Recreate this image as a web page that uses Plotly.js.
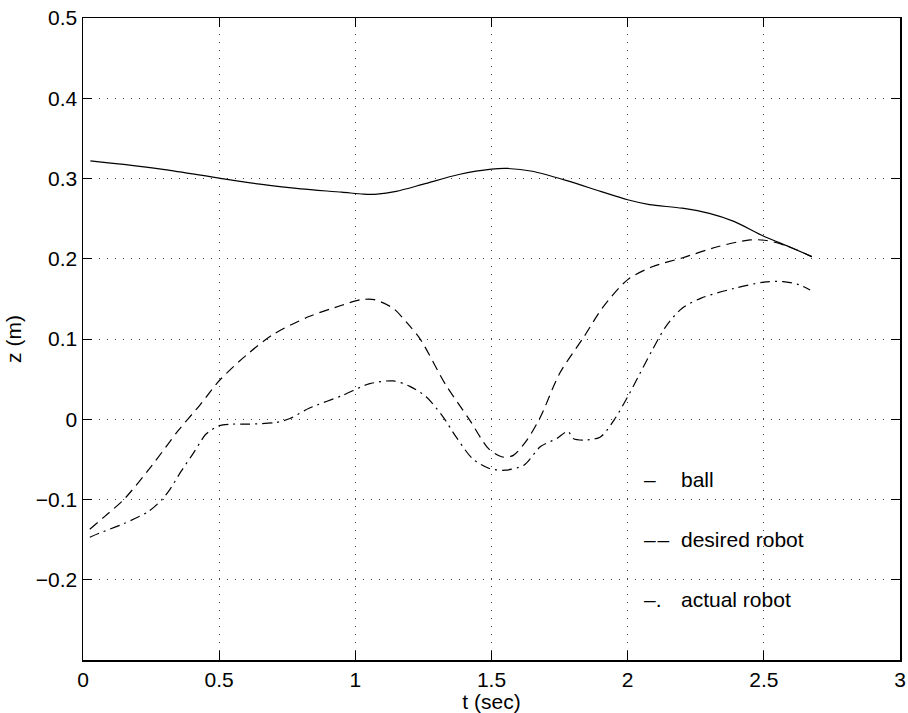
<!DOCTYPE html>
<html>
<head>
<meta charset="utf-8">
<script src="https://cdn.plot.ly/plotly-3.0.1.min.js"></script>
<style>html,body{margin:0;padding:0;background:#fff;}#chart{width:908px;height:713px;}</style>
</head>
<body>
<div id="chart"></div>
<script>
// Ball trajectory (solid)
const ballT = [0.027, 0.15, 0.3, 0.5, 0.65, 0.8, 0.95, 1.03, 1.08, 1.15, 1.25, 1.38, 1.5, 1.56, 1.65, 1.78, 1.9, 2.0, 2.08, 2.2, 2.3, 2.39, 2.5, 2.6, 2.676];
const ballZ = [0.322, 0.3175, 0.311, 0.3005, 0.293, 0.287, 0.283, 0.2805, 0.2805, 0.284, 0.293, 0.305, 0.3117, 0.3125, 0.309, 0.297, 0.284, 0.2735, 0.2675, 0.263, 0.2565, 0.2465, 0.228, 0.214, 0.2027];

// Desired robot (dashed)
const desiredT = [0.025, 0.08, 0.15, 0.25, 0.35, 0.43, 0.5, 0.6, 0.7, 0.83, 0.95, 1.02, 1.07, 1.14, 1.19, 1.24, 1.33, 1.42, 1.49, 1.54, 1.58, 1.63, 1.68, 1.75, 1.84, 1.91, 2.0, 2.09, 2.2, 2.33, 2.45, 2.51, 2.58, 2.676];
const desiredZ = [-0.137, -0.121, -0.1, -0.059, -0.014, 0.018, 0.048, 0.08, 0.106, 0.128, 0.142, 0.149, 0.149, 0.138, 0.12, 0.099, 0.044, -0.001, -0.037, -0.047, -0.045, -0.026, 0.003, 0.057, 0.103, 0.14, 0.174, 0.19, 0.201, 0.215, 0.2235, 0.2227, 0.2165, 0.2027];

// Actual robot (dash-dot)
const actualT = [0.025, 0.06, 0.15, 0.24, 0.29, 0.32, 0.36, 0.40, 0.43, 0.45, 0.50, 0.55, 0.61, 0.71, 0.76, 0.83, 0.955, 1.05, 1.14, 1.20, 1.26, 1.32, 1.37, 1.43, 1.49, 1.55, 1.62, 1.68, 1.74, 1.78, 1.80, 1.84, 1.90, 1.95, 2.0, 2.045, 2.09, 2.14, 2.2, 2.27, 2.39, 2.5, 2.57, 2.63, 2.67];
const actualZ = [-0.147, -0.142, -0.13, -0.115, -0.1, -0.087, -0.065, -0.045, -0.029, -0.019, -0.008, -0.006, -0.006, -0.004, 0.001, 0.0137, 0.03, 0.044, 0.0478, 0.041, 0.028, 0.004, -0.022, -0.049, -0.061, -0.0635, -0.057, -0.034, -0.024, -0.015, -0.024, -0.026, -0.022, -0.001, 0.028, 0.057, 0.086, 0.1155, 0.1384, 0.151, 0.163, 0.1708, 0.1716, 0.1675, 0.161];

const xTicks = [0, 0.5, 1, 1.5, 2, 2.5, 3];
const xTickText = ["0", "0.5", "1", "1.5", "2", "2.5", "3"];
const yTicks = [-0.2, -0.1, 0, 0.1, 0.2, 0.3, 0.4, 0.5];
const yTickText = ["\u22120.2", "\u22120.1", "0", "0.1", "0.2", "0.3", "0.4", "0.5"];

const legendLabels = ["ball", "desired robot", "actual robot"];
const legendSymbols = ["\u2013", "\u2013\u200A\u2013", "\u2013."];
const legendY = [-0.075, -0.15, -0.225];

const FONT = "Liberation Sans, Arial, Helvetica, sans-serif";
const FS = 21;

const traces = [
  {x: ballT, y: ballZ, mode: "lines", line: {color: "#000", width: 1.2, shape: "spline", smoothing: 0.8}, name: "ball"},
  {x: desiredT, y: desiredZ, mode: "lines", line: {color: "#000", width: 1.2, dash: "10px,6px", shape: "spline", smoothing: 0.8}, name: "desired robot"},
  {x: actualT, y: actualZ, mode: "lines", line: {color: "#000", width: 1.2, dash: "10px,5px,2px,5px", shape: "spline", smoothing: 0.8}, name: "actual robot"}
];

const annotations = [];
for (let i = 0; i < legendLabels.length; i++) {
  annotations.push({x: 2.051, y: legendY[i], xref: "x", yref: "y", text: legendSymbols[i], showarrow: false, xanchor: "left", yanchor: "middle", font: {family: FONT, size: FS, color: "#000"}});
  annotations.push({x: 2.19, y: legendY[i], xref: "x", yref: "y", text: legendLabels[i], showarrow: false, xanchor: "left", yanchor: "middle", font: {family: FONT, size: FS, color: "#000"}});
}

const axisCommon = {
  showline: true, linecolor: "#000", linewidth: 1.5, mirror: "ticks",
  ticks: "inside", ticklen: 9, tickwidth: 1, tickcolor: "#000",
  showgrid: true, gridcolor: "#444", gridwidth: 1, griddash: "1px,7px",
  zeroline: false, tickfont: {family: FONT, size: FS, color: "#000"},
  tickmode: "array", fixedrange: true
};

const layout = {
  width: 908, height: 713,
  margin: {l: 83, r: 8, t: 18, b: 53},
  paper_bgcolor: "#fff", plot_bgcolor: "#fff",
  showlegend: false,
  font: {family: FONT, size: FS, color: "#000"},
  xaxis: Object.assign({}, axisCommon, {
    range: [0, 3], tickvals: xTicks, ticktext: xTickText,
    title: {text: "t (sec)", font: {family: FONT, size: FS, color: "#000"}, standoff: 2}
  }),
  yaxis: Object.assign({}, axisCommon, {
    range: [-0.3, 0.5], tickvals: yTicks, ticktext: yTickText,
    title: {text: "z (m)", font: {family: FONT, size: FS, color: "#000"}, standoff: 8}
  }),
  annotations: annotations
};

Plotly.newPlot("chart", traces, layout, {displayModeBar: false, staticPlot: true});
</script>
</body>
</html>
